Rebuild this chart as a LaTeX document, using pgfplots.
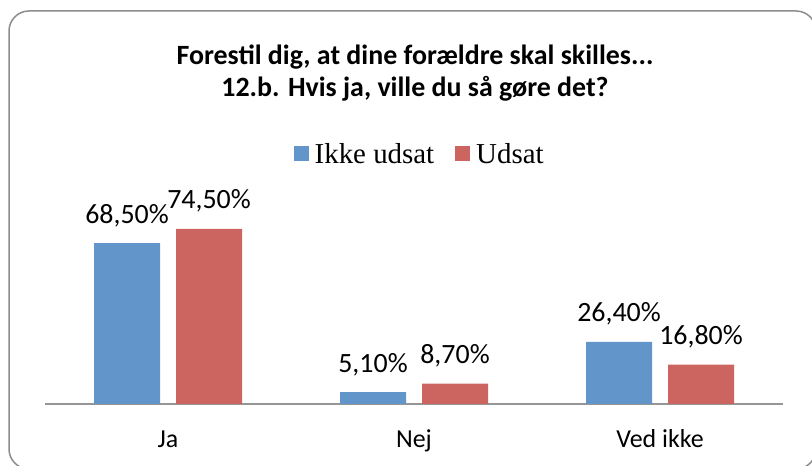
\documentclass[border=0pt]{standalone}
\usepackage{fontspec}
\setmainfont{Carlito}
\newfontfamily\legfont{Liberation Serif}
\usepackage{pgfplots}
\pgfplotsset{compat=1.18}
\definecolor{barblue}{RGB}{98,149,202}
\definecolor{barred}{RGB}{204,101,95}
\definecolor{axgray}{RGB}{150,150,150}
\definecolor{framegray}{RGB}{140,140,140}
\begin{document}
\begin{tikzpicture}[x=1bp,y=1bp]
\useasboundingbox (0,0) rectangle (812,466);
\draw[framegray, line width=1.5bp, rounded corners=20bp] (9,-3) rectangle (816,455);
\node[font=\fontsize{28}{32}\selectfont\bfseries, align=center] at (415,393)
  {Forestil dig, at dine forældre skal skilles...\\12.b. Hvis ja, ville du så gøre det?};
\begin{axis}[
  at={(45bp,62bp)}, anchor=south west,
  scale only axis, width=738bp, height=188bp,
  xmin=-0.5, xmax=2.5, ymin=0, ymax=80,
  axis x line=bottom, axis y line=none,
  x axis line style={-, axgray, line width=2bp},
  xtick={0,1,2}, xticklabels={Ja,Nej,Ved ikke},
  major tick length=0pt,
  xticklabel style={font=\fontsize{26}{30}\selectfont, anchor=base, yshift=-44bp},
  ytick=\empty,
  clip=false,
  ybar, bar width=66bp,
  point meta=explicit symbolic,
  nodes near coords,
  every node near coord/.append style={font=\fontsize{28}{32}\selectfont, anchor=base, yshift=20bp, inner sep=0pt},
  legend columns=2,
  legend style={at={(0.507,1.33)}, anchor=center, draw=none, fill=none,
    font=\fontsize{29}{32}\selectfont\legfont,
    /tikz/every even column/.append style={column sep=20bp},
    nodes={inner sep=1bp}},
  legend image code/.code={\fill[#1] (0bp,-7.5bp) rectangle (15bp,7.5bp);},
]
\addplot[fill=barblue, draw=none, bar shift=-41bp] coordinates {
  (0,68.5) [68,50\%]
  (1,5.1) [5,10\%]
  (2,26.4) [26,40\%]
};
\addplot[fill=barred, draw=none, bar shift=41bp] coordinates {
  (0,74.5) [74,50\%]
  (1,8.7) [8,70\%]
  (2,16.8) [16,80\%]
};
\legend{\hspace{5bp}Ikke udsat, \hspace{5bp}Udsat}
\end{axis}
\end{tikzpicture}
\end{document}
